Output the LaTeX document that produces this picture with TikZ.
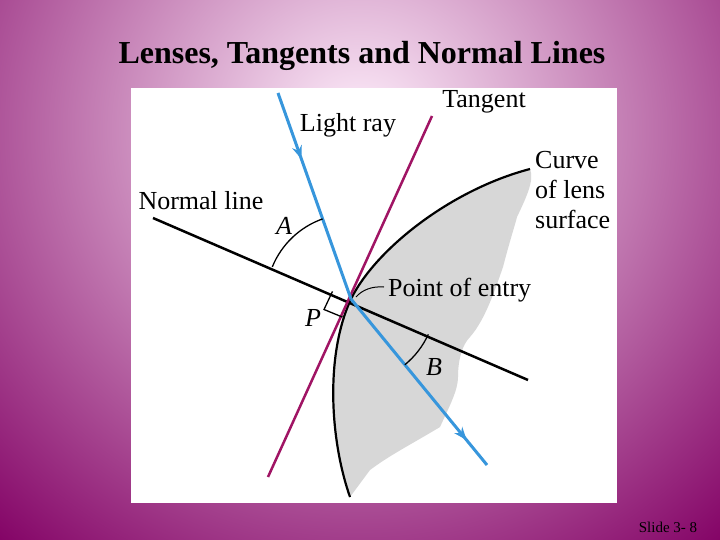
\documentclass[tikz,border=0pt]{standalone}
\usepackage{fontspec}
\setmainfont{Liberation Serif}
\usetikzlibrary{decorations.markings,arrows.meta,calc}
\definecolor{ray}{RGB}{55,150,220}
\definecolor{tan}{RGB}{160,20,100}
\definecolor{lens}{RGB}{215,215,215}
\definecolor{bgout}{RGB}{130,0,100}
\definecolor{bgin}{RGB}{255,240,252}
\begin{document}
\begin{tikzpicture}[x=1pt,y=-1pt,
  lbl/.style={font=\fontsize{26}{30}\selectfont,inner sep=0pt},
  ital/.style={font=\fontsize{26}{30}\selectfont\itshape,inner sep=0pt},
  rayline/.style={draw=ray,line width=3pt},
  arrmid/.style={postaction={decorate},decoration={markings,mark=at position #1 with {\arrow{Stealth[length=13pt,width=10pt]}}}}]
\useasboundingbox (0,0) rectangle (720,540);
\shade[inner color=bgin,outer color=bgout] (-200,-420) rectangle (920,680);
\fill[white] (131,88) rectangle (617,503);
\node[font=\fontsize{32}{34}\selectfont\bfseries] (title) at (362,56) {Lenses, Tangents and Normal Lines};
\node[font=\fontsize{15}{16}\selectfont] (slide) at (668,527) {Slide 3- 8};
\coordinate (P) at (351,299);
\coordinate (Ctop) at (530,169);
\coordinate (Cbot) at (350,497);
% lens
\fill[lens] (Ctop) .. controls (450,190) and (375,250) .. (P) .. controls (325,355) and (330,440) .. (Cbot)
  -- (370,470) .. controls (390,455) and (410,445) .. (440,427)
  .. controls (450,405) and (458,390) .. (458,377) .. controls (458,360) and (462,345) .. (470,337)
  .. controls (485,320) and (495,290) .. (503,267) .. controls (510,240) and (515,225) .. (517,217)
  .. controls (525,200) and (535,180) .. (Ctop);
\draw[line width=2.2pt] (Ctop) .. controls (450,190) and (375,250) .. (P) .. controls (325,355) and (330,440) .. (Cbot);
% normal
\coordinate (N1) at (153,218);
\coordinate (N2) at (528,380);
\draw[line width=2.5pt] (N1) -- (N2);
% tangent
\coordinate (T1) at (432,116);
\coordinate (T2) at (268,477);
\draw[draw=tan,line width=2.5pt] (T1) -- (T2);
% ray
\coordinate (R1) at (278,93);
\coordinate (R2) at (487,465);
\draw[rayline,arrmid=0.32] (R1) -- (P);
\draw[rayline,arrmid=0.85] (P) -- (R2);
% right angle
\coordinate (ra) at (332.5,291.4);
\coordinate (rb) at (342.5,317.1);
\coordinate (rc) at (324.0,309.5);
\draw[line width=1.3pt] (ra) -- (rc) -- (rb);
% arcs
\draw[line width=1.3pt] ($(P)+(202.2:85)$) arc[start angle=202.2,end angle=250.5,radius=85];
\draw[line width=1.3pt] ($(P)+(24.6:85)$) arc[start angle=24.6,end angle=50.7,radius=85];
% labels
\node[lbl] (lr) at (348,125) {Light ray};
\node[lbl] (tg) at (484,102) {Tangent};
\node[lbl,align=left,anchor=west] (cv) at (535,190) {Curve\\of lens\\surface};
\node[lbl] (nl) at (201,201) {Normal line};
\node[ital] (A) at (284,226) {A};
\node[ital] (Pl) at (313,318) {P};
\node[ital] (B) at (434,367) {B};
\node[lbl,anchor=west] (pe) at (388,290) {Point of entry};
\coordinate (pe0) at (384,287);
\coordinate (pe1) at (356,297);
\draw[line width=1pt] (pe0) .. controls (372,286) and (362,290) .. (pe1);
\end{tikzpicture}
\end{document}
